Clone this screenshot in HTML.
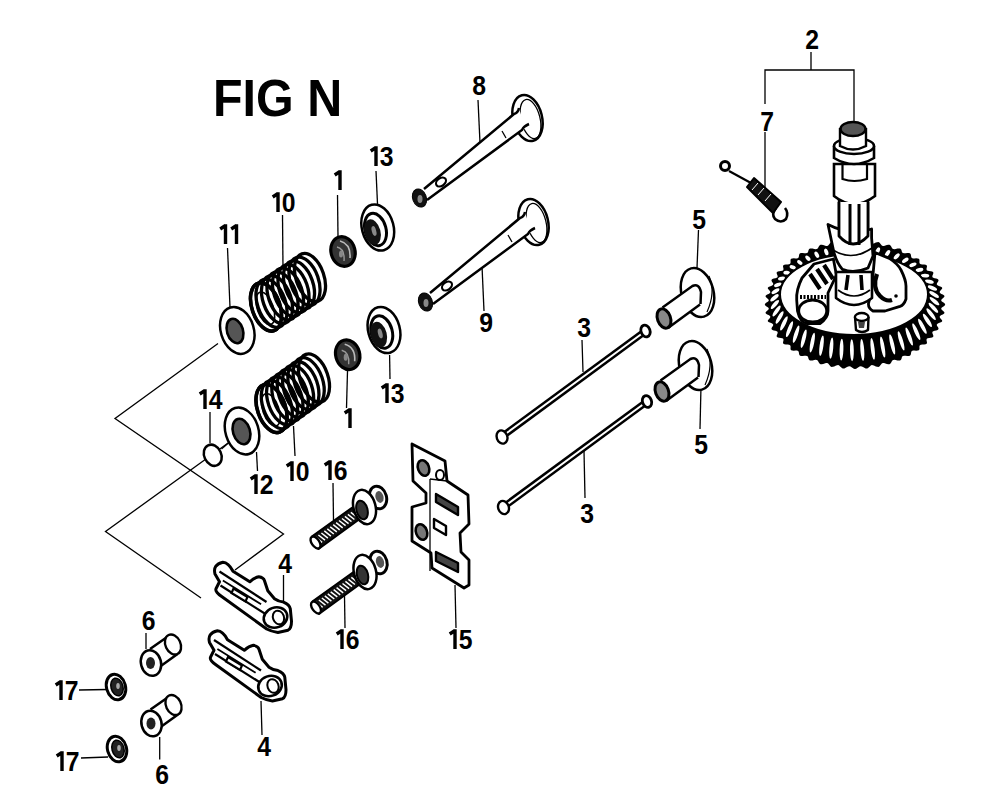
<!DOCTYPE html>
<html><head><meta charset="utf-8">
<style>
html,body{margin:0;padding:0;background:#fff;}
svg{display:block;}
.t{font-family:"Liberation Sans",sans-serif;font-weight:bold;font-size:27.5px;fill:#000;text-anchor:middle;}
.ttl{font-family:"Liberation Sans",sans-serif;font-weight:bold;font-size:51px;fill:#000;}
.l{stroke:#000;stroke-width:1.3;fill:none;}
.s2{stroke:#000;stroke-width:2.5;fill:none;}
.w{fill:#fff;stroke:#000;stroke-width:2.5;}
.gz{fill:none;stroke:#000;stroke-width:3;}
.sp ellipse{fill:none;stroke:#000;stroke-width:3.3;}
</style></head><body>
<svg width="1000" height="801" viewBox="0 0 1000 801">
<rect width="1000" height="801" fill="#fff"/>
<text class="ttl" transform="translate(213,116) scale(0.95,1)">FIG N</text>


<text class="t" transform="translate(479.0,95.0) scale(0.9,1)">8</text>
<text class="t" transform="translate(486.0,332.0) scale(0.9,1)">9</text>
<text class="t" transform="translate(584.0,337.0) scale(0.9,1)">3</text>
<text class="t" transform="translate(587.0,523.0) scale(0.9,1)">3</text>
<text class="t" transform="translate(699.0,229.0) scale(0.9,1)">5</text>
<text class="t" transform="translate(701.0,454.0) scale(0.9,1)">5</text>
<text class="t" transform="translate(812.0,49.0) scale(0.9,1)">2</text>
<text class="t" transform="translate(767.0,131.0) scale(0.9,1)">7</text>
<path d="M370.7 151.0 L376.0 147.5 M376.0 146.2 L376.0 166.0" stroke="#000" stroke-width="3.4" fill="none"/>
<text class="t" transform="translate(386.5,166.0) scale(0.9,1)">3</text>
<path d="M334.7 175.0 L340.0 171.5 M340.0 170.2 L340.0 190.0" stroke="#000" stroke-width="3.4" fill="none"/>
<path d="M272.7 197.0 L278.0 193.5 M278.0 192.2 L278.0 212.0" stroke="#000" stroke-width="3.4" fill="none"/>
<text class="t" transform="translate(288.5,212.0) scale(0.9,1)">0</text>
<path d="M220.2 229.0 L225.5 225.5 M225.5 224.2 L225.5 244.0" stroke="#000" stroke-width="3.4" fill="none"/>
<path d="M231.2 229.0 L236.5 225.5 M236.5 224.2 L236.5 244.0" stroke="#000" stroke-width="3.4" fill="none"/>
<path d="M381.7 388.0 L387.0 384.5 M387.0 383.2 L387.0 403.0" stroke="#000" stroke-width="3.4" fill="none"/>
<text class="t" transform="translate(397.5,403.0) scale(0.9,1)">3</text>
<path d="M344.7 413.0 L350.0 409.5 M350.0 408.2 L350.0 428.0" stroke="#000" stroke-width="3.4" fill="none"/>
<path d="M286.7 466.0 L292.0 462.5 M292.0 461.2 L292.0 481.0" stroke="#000" stroke-width="3.4" fill="none"/>
<text class="t" transform="translate(302.5,481.0) scale(0.9,1)">0</text>
<path d="M250.7 479.0 L256.0 475.5 M256.0 474.2 L256.0 494.0" stroke="#000" stroke-width="3.4" fill="none"/>
<text class="t" transform="translate(266.5,494.0) scale(0.9,1)">2</text>
<path d="M199.7 394.0 L205.0 390.5 M205.0 389.2 L205.0 409.0" stroke="#000" stroke-width="3.4" fill="none"/>
<text class="t" transform="translate(215.5,409.0) scale(0.9,1)">4</text>
<path d="M324.7 465.0 L330.0 461.5 M330.0 460.2 L330.0 480.0" stroke="#000" stroke-width="3.4" fill="none"/>
<text class="t" transform="translate(340.5,480.0) scale(0.9,1)">6</text>
<path d="M336.7 634.0 L342.0 630.5 M342.0 629.2 L342.0 649.0" stroke="#000" stroke-width="3.4" fill="none"/>
<text class="t" transform="translate(352.5,649.0) scale(0.9,1)">6</text>
<path d="M449.7 634.0 L455.0 630.5 M455.0 629.2 L455.0 649.0" stroke="#000" stroke-width="3.4" fill="none"/>
<text class="t" transform="translate(465.5,649.0) scale(0.9,1)">5</text>
<text class="t" transform="translate(285.0,573.0) scale(0.9,1)">4</text>
<text class="t" transform="translate(264.0,756.0) scale(0.9,1)">4</text>
<text class="t" transform="translate(148.5,630.0) scale(0.9,1)">6</text>
<text class="t" transform="translate(162.0,784.0) scale(0.9,1)">6</text>
<path d="M55.7 685.0 L61.0 681.5 M61.0 680.2 L61.0 700.0" stroke="#000" stroke-width="3.4" fill="none"/>
<text class="t" transform="translate(71.5,700.0) scale(0.9,1)">7</text>
<path d="M56.7 756.0 L62.0 752.5 M62.0 751.2 L62.0 771.0" stroke="#000" stroke-width="3.4" fill="none"/>
<text class="t" transform="translate(72.5,771.0) scale(0.9,1)">7</text>

<!-- leaders -->
<g class="l">
<path d="M478 100 L480 143"/>
<path d="M482 266 L484 311"/>
<path d="M582 340 L583 372"/>
<path d="M584 451 L585 498"/>
<path d="M698.5 230 L697 268"/>
<path d="M701 386 L700 429"/>
<path d="M811 52 L811 70 M765 104 L765 70 L854 70 L854 122"/>
<path d="M765 132 L765 190"/>
<path d="M376 171 L377.5 204"/>
<path d="M337.5 195 L338 237"/>
<path d="M282.5 215 L283 268"/>
<path d="M227.5 248 L230 307"/>
<path d="M347.5 371 L346.5 408"/>
<path d="M293.5 426 L295 456"/>
<path d="M256.5 452 L257.5 471"/>
<path d="M210 412 L210 443"/>
<path d="M333 483 L333.5 520"/>
<path d="M344.5 596 L345 628"/>
<path d="M455 585 L456 628"/>
<path d="M283.5 575 L283.5 604"/>
<path d="M261 701 L262 735"/>
<path d="M146 633 L146 649"/>
<path d="M159.7 737 L159.7 759.5"/>
<path d="M79 690 L107 689.5"/>
<path d="M81 758 L108 757"/>
<path d="M389.6 355 L390 379"/>
<!-- brackets -->
<path d="M218 343.5 L115 418.5 L283.5 534 L235 570"/>
<path d="M229.5 442 L105.5 531.5 L201 598"/>
</g>

<!-- valve 8 -->
<g id="v8">
 <ellipse class="w" cx="527.5" cy="118" rx="14.5" ry="23.5" transform="rotate(-14 527.5 118)" stroke-width="2.8"/>
 <ellipse cx="530.5" cy="119" rx="9.5" ry="20" transform="rotate(-14 530.5 119)" fill="none" stroke="#000" stroke-width="1.3"/>
 <path d="M519 109 L423 189 L426 201 L526 128 Z" fill="#fff"/>
 <path class="s2" d="M519 108 Q518 113 514 114 L424 189"/>
 <path class="s2" d="M529 124 Q524 126 522 130 L427 200"/>
 <path class="l" d="M502 131 L506 138"/>
 <ellipse cx="441" cy="182" rx="5.5" ry="3.8" transform="rotate(-37 441 182)" fill="#fff" stroke="#000" stroke-width="2.2"/>
 <ellipse cx="419.5" cy="198" rx="6.8" ry="9.3" transform="rotate(-20 419.5 198)" fill="#111" stroke="#000" stroke-width="1"/>
 <ellipse cx="420" cy="199" rx="2.5" ry="4" fill="#888"/>
</g>
<use href="#v8" transform="translate(6,104)"/>

<!-- springs 10 -->
<g class="sp">
<ellipse cx="266.0" cy="307.0" rx="14" ry="25" transform="rotate(-19 266.0 307.0)"/>
<ellipse cx="271.5" cy="303.3" rx="14" ry="25" transform="rotate(-19 271.5 303.3)"/>
<ellipse cx="277.0" cy="299.6" rx="14" ry="25" transform="rotate(-19 277.0 299.6)"/>
<ellipse cx="282.5" cy="295.9" rx="14" ry="25" transform="rotate(-19 282.5 295.9)"/>
<ellipse cx="288.0" cy="292.2" rx="14" ry="25" transform="rotate(-19 288.0 292.2)"/>
<ellipse cx="293.5" cy="288.6" rx="14" ry="25" transform="rotate(-19 293.5 288.6)"/>
<ellipse cx="299.0" cy="284.9" rx="14" ry="25" transform="rotate(-19 299.0 284.9)"/>
<ellipse cx="304.5" cy="281.2" rx="14" ry="25" transform="rotate(-19 304.5 281.2)"/>
<ellipse cx="310.0" cy="277.5" rx="14" ry="25" transform="rotate(-19 310.0 277.5)"/>
<ellipse cx="266" cy="307" rx="14" ry="25" transform="rotate(-19 266 307)" style="stroke-width:3.6"/>
<ellipse cx="265" cy="308" rx="8" ry="17" transform="rotate(-19 266 307)" style="stroke-width:1.6"/>
</g>
<g class="sp">
<ellipse cx="271.5" cy="408.5" rx="14" ry="25" transform="rotate(-19 271.5 408.5)"/>
<ellipse cx="276.8" cy="404.7" rx="14" ry="25" transform="rotate(-19 276.8 404.7)"/>
<ellipse cx="282.1" cy="400.9" rx="14" ry="25" transform="rotate(-19 282.1 400.9)"/>
<ellipse cx="287.4" cy="397.1" rx="14" ry="25" transform="rotate(-19 287.4 397.1)"/>
<ellipse cx="292.8" cy="393.2" rx="14" ry="25" transform="rotate(-19 292.8 393.2)"/>
<ellipse cx="298.1" cy="389.4" rx="14" ry="25" transform="rotate(-19 298.1 389.4)"/>
<ellipse cx="303.4" cy="385.6" rx="14" ry="25" transform="rotate(-19 303.4 385.6)"/>
<ellipse cx="308.7" cy="381.8" rx="14" ry="25" transform="rotate(-19 308.7 381.8)"/>
<ellipse cx="314.0" cy="378.0" rx="14" ry="25" transform="rotate(-19 314.0 378.0)"/>
<ellipse cx="271.5" cy="408.5" rx="14" ry="25" transform="rotate(-19 271.5 408.5)" style="stroke-width:3.6"/>
<ellipse cx="270.5" cy="409.5" rx="8" ry="17" transform="rotate(-19 271.5 408.5)" style="stroke-width:1.6"/>
</g>

<!-- washer 11 -->
<ellipse class="w" cx="237.3" cy="330.4" rx="16.5" ry="24" transform="rotate(-17 237.3 330.4)" stroke-width="2.8"/>
<ellipse cx="235" cy="331" rx="8" ry="12.5" transform="rotate(-17 235 331)" fill="#555" stroke="#000" stroke-width="2.6"/>
<!-- washer 12 -->
<ellipse class="w" cx="242" cy="431" rx="16.5" ry="24" transform="rotate(-17 242 431)" stroke-width="2.8"/>
<ellipse cx="241.5" cy="431.5" rx="8.5" ry="13" transform="rotate(-17 241.5 431.5)" fill="#555" stroke="#000" stroke-width="2.6"/>
<!-- ring 14 -->
<path class="l" d="M221.5 449 L229.5 442"/>
<ellipse class="w" cx="212.75" cy="455.25" rx="8.5" ry="11" transform="rotate(-25 212.75 455.25)"/>

<!-- keepers 1 -->
<g id="k1">
<ellipse cx="343" cy="251.5" rx="12" ry="15" transform="rotate(-15 343 251.5)" fill="#333" stroke="#000" stroke-width="3.2"/>
<path d="M340 241 Q351 244 350 258" fill="none" stroke="#bbb" stroke-width="1.6"/>
<path d="M337 247 Q345 249 344 261" fill="none" stroke="#999" stroke-width="1.4"/>
<ellipse cx="341" cy="254" rx="2" ry="3.5" fill="#888"/>
</g>
<use href="#k1" transform="translate(4.7,103.2)"/>

<!-- retainers 13 -->
<g id="r13">
<ellipse class="w" cx="377.75" cy="227.5" rx="15.8" ry="23.5" transform="rotate(-15 377.75 227.5)" stroke-width="4.4"/>
<ellipse cx="375.5" cy="229.5" rx="10.5" ry="16.5" transform="rotate(-15 375.5 229.5)" fill="none" stroke="#000" stroke-width="3"/>
<ellipse cx="372.5" cy="232" rx="8" ry="13" transform="rotate(-15 372.5 232)" fill="#111"/>
<ellipse cx="374" cy="231" rx="2.2" ry="5" transform="rotate(-15 374 231)" fill="#888"/>
</g>
<use href="#r13" transform="translate(6.25,102.5)"/>

<!-- pushrods 3 -->
<g id="pr1">
<path d="M502 436.5 L645.5 331" stroke="#000" stroke-width="7" fill="none"/>
<path d="M505 434.3 L642.5 333.2" stroke="#fff" stroke-width="2" fill="none"/>
<ellipse cx="502" cy="437" rx="5.3" ry="6.8" transform="rotate(-20 502 437)" fill="#fff" stroke="#000" stroke-width="2.4"/>
<ellipse cx="645.5" cy="331" rx="4.5" ry="6" transform="rotate(-20 645.5 331)" fill="#fff" stroke="#000" stroke-width="2.8"/>
</g>
<use href="#pr1" transform="translate(1.5,70.5)"/>

<!-- lifters 5 -->
<g id="lf5">
<ellipse class="w" cx="697.5" cy="292.5" rx="16" ry="25" transform="rotate(-15 697.5 292.5)" stroke-width="2.8"/>
<path d="M709 276 Q716 292 707 312" fill="none" stroke="#000" stroke-width="1.2"/>
<path d="M662.5 307.4 L692.4 286 L700 304.6 L668 328 Z" fill="#fff"/>
<path class="s2" d="M662.5 307.4 L692.4 286 Q699 283 701 292 L700.5 304"/>
<path class="s2" d="M668 328 L700 304.6"/>
<ellipse cx="664" cy="318.5" rx="6.5" ry="10" transform="rotate(-20 664 318.5)" fill="#888" stroke="#000" stroke-width="3"/>
</g>
<use href="#lf5" transform="translate(-2,73)"/>

<!-- plate 15 -->
<g>
<path d="M412 444 L445 461 L447 481 L468 495 L469 524 L460 533 L461 552 L469 560 L469 585 L464 588 L432 568 L431 553 L412 541 L412 507 L426 503 L426 493 L413 481 Z" fill="#fff" stroke="#000" stroke-width="2.8" stroke-linejoin="round"/>
<path class="l" d="M430 479 L430 571"/>
<path class="l" d="M430 479 L447 481"/>
<ellipse cx="423.5" cy="468" rx="5.5" ry="8" transform="rotate(-20 423.5 468)" fill="#777" stroke="#000" stroke-width="2.6"/>
<ellipse cx="440" cy="475" rx="4" ry="5" fill="#fff" stroke="#000" stroke-width="2"/>
<path d="M436 494 L458 507 L458 515 L436 502 Z" fill="#444" stroke="#000" stroke-width="2.4" stroke-linejoin="round"/>
<path d="M434 519 L446 526 L446 535 L434 528 Z" fill="#fff" stroke="#000" stroke-width="2.4" stroke-linejoin="round"/>
<ellipse cx="421.5" cy="532" rx="5.5" ry="8" transform="rotate(-20 421.5 532)" fill="#777" stroke="#000" stroke-width="2.6"/>
<path d="M436 552 L458 563 L458 572 L436 561 Z" fill="#444" stroke="#000" stroke-width="2.4" stroke-linejoin="round"/>
</g>

<!-- bolts 16 -->
<g id="b16">
<path d="M312.5 536 L353 507 L359 519.5 L318.5 549 Z" fill="#111" stroke="#000" stroke-width="2" stroke-linejoin="round"/>
<path d="M322.1 542.3 L315.5 537.1 M325.0 540.2 L318.4 535.0 M327.9 538.1 L321.4 533.0 M330.9 536.1 L324.3 530.9 M333.8 534.0 L327.3 528.8 M336.8 531.9 L330.2 526.8 M339.7 529.8 L333.2 524.7 M342.7 527.8 L336.1 522.6 M345.6 525.7 L339.0 520.5 M348.6 523.6 L342.0 518.5 M351.5 521.6 L344.9 516.4 M354.4 519.5 L347.9 514.3 M357.4 517.4 L350.8 512.3" stroke="#fff" stroke-width="1.5" fill="none"/>
<ellipse cx="315.5" cy="542.5" rx="3.8" ry="6.8" transform="rotate(-35 315.5 542.5)" fill="#fff" stroke="#000" stroke-width="2.4"/>
<ellipse cx="378" cy="497.5" rx="8.5" ry="11.5" transform="rotate(-15 378 497.5)" fill="#fff" stroke="#000" stroke-width="3"/>
<ellipse cx="379.5" cy="497" rx="4" ry="6" transform="rotate(-15 379.5 497)" fill="#555"/>
<ellipse class="w" cx="364.5" cy="507" rx="11" ry="17.5" transform="rotate(-15 364.5 507)" stroke-width="3"/>
<ellipse cx="362" cy="510" rx="5.5" ry="9.5" transform="rotate(-15 362 510)" fill="#333" stroke="#000" stroke-width="2"/>
</g>
<use href="#b16" transform="translate(0.5,65)"/>

<!-- rockers 4 -->
<g id="rk4">
<path d="M209.5 642.5 Q207 633 217.4 630.7 Q223 631 227.5 639.7 L244.3 650.3 Q249 646 253.3 645.3 Q258 646 259 649.2 L262.3 659.3 L269 667.2 Q273 670 278 670.6 Q284 673 284.8 677.3 L286 689.7 Q286 697 282.5 698.7 L272.4 701 Q266 700 261.2 697.5 L216.2 665 Q209 660 210.6 657 L214 650.3 Z" fill="#fff" stroke="#000" stroke-width="3" stroke-linejoin="round"/>
<path d="M214 640 L261 670.5" stroke="#000" stroke-width="2.2" fill="none"/>
<path d="M217.4 649 L255.6 672.8" stroke="#000" stroke-width="1.8" fill="none"/>
<path d="M215 654 L264 685" stroke="#000" stroke-width="2.2" fill="none"/>
<path d="M228 657 L242 665.5 L240 670 L226 661.5 Z" fill="#fff" stroke="#000" stroke-width="2.2"/>
<ellipse cx="270" cy="686" rx="12" ry="10" transform="rotate(-20 270 686)" fill="#fff" stroke="#000" stroke-width="2.6"/>
<ellipse cx="273" cy="686" rx="5.5" ry="7" transform="rotate(-20 273 686)" fill="none" stroke="#000" stroke-width="2"/>
</g>
<use href="#rk4" transform="translate(5.5,-68.5)"/>

<!-- pivots 6 -->
<g id="pv6">
<path d="M150 649 L170 635 L177.5 654 L158.75 667.5 Z" fill="#fff"/>
<path class="s2" d="M150 649 L170 635 M158.75 667.5 L177.5 654" stroke-width="2.2"/>
<ellipse cx="173" cy="644.5" rx="7.5" ry="10.5" transform="rotate(-25 173 644.5)" fill="#fff" stroke="#000" stroke-width="2.4"/>
<ellipse class="w" cx="151" cy="663" rx="10" ry="13" transform="rotate(-15 151 663)" stroke-width="2.6"/>
<ellipse cx="150.5" cy="663" rx="4.5" ry="6" fill="#222"/>
</g>
<use href="#pv6" transform="translate(0.5,60.5)"/>

<!-- nuts 17 -->
<g id="n17">
<ellipse cx="116" cy="687" rx="9.5" ry="13" transform="rotate(-15 116 687)" fill="#fff" stroke="#000" stroke-width="3"/>
<ellipse cx="117" cy="687" rx="6" ry="9" transform="rotate(-15 117 687)" fill="#222" stroke="#000" stroke-width="1.5"/>
<ellipse cx="118" cy="686" rx="1.8" ry="3" fill="#aaa"/>
</g>
<use href="#n17" transform="translate(1,62)"/>

<!-- spring 7 -->
<g>
<circle cx="725" cy="166" r="4.5" fill="#fff" stroke="#000" stroke-width="3"/>
<path d="M729 171 L751 183" stroke="#000" stroke-width="2.2"/>
<path d="M776 208 Q771 214 775 219 Q781 224 786 219 Q789 213 785 208" fill="none" stroke="#000" stroke-width="2.6"/>
<path d="M747 187 L754 178 L781 202 L773 213 Z" fill="#111" stroke="#000" stroke-width="2" stroke-linejoin="round"/>
<path d="M752 190 L758 183 M758 195 L764 188 M765 201 L771 194" stroke="#fff" stroke-width="1"/>
</g>

<!-- gear -->
<path d="M945.2 304.5 L944.9 305.3 L943.9 306.2 L942.6 307.0 L941.6 307.7 L941.2 308.5 L941.5 309.4 L942.3 310.2 L943.4 311.2 L944.2 312.1 L944.5 312.9 L943.9 313.7 L942.8 314.5 L941.4 315.1 L940.3 315.8 L939.7 316.6 L939.8 317.4 L940.5 318.4 L941.4 319.4 L942.1 320.3 L942.2 321.2 L941.5 322.0 L940.2 322.6 L938.8 323.1 L937.5 323.7 L936.8 324.4 L936.8 325.2 L937.3 326.2 L938.0 327.3 L938.5 328.3 L938.4 329.2 L937.6 329.9 L936.2 330.4 L934.6 330.8 L933.3 331.2 L932.5 331.8 L932.3 332.7 L932.6 333.7 L933.1 334.9 L933.4 335.9 L933.2 336.8 L932.2 337.4 L930.8 337.7 L929.2 338.0 L927.7 338.3 L926.8 338.8 L926.5 339.7 L926.6 340.7 L926.9 341.9 L927.0 343.0 L926.6 343.8 L925.6 344.3 L924.1 344.5 L922.4 344.6 L920.9 344.8 L919.9 345.3 L919.5 346.0 L919.4 347.1 L919.5 348.3 L919.4 349.4 L918.8 350.2 L917.7 350.6 L916.2 350.7 L914.5 350.6 L913.0 350.6 L911.9 351.0 L911.3 351.7 L911.1 352.8 L910.9 353.9 L910.6 355.0 L909.9 355.7 L908.8 356.0 L907.3 356.0 L905.6 355.8 L904.1 355.7 L903.0 355.9 L902.2 356.6 L901.8 357.6 L901.5 358.8 L901.0 359.8 L900.1 360.4 L898.9 360.6 L897.4 360.4 L895.8 360.1 L894.4 359.8 L893.2 359.9 L892.3 360.5 L891.7 361.5 L891.2 362.6 L890.5 363.6 L889.5 364.2 L888.3 364.2 L886.9 363.9 L885.4 363.4 L884.0 363.0 L882.8 363.0 L881.8 363.5 L881.0 364.4 L880.2 365.5 L879.4 366.4 L878.4 366.9 L877.1 366.8 L875.8 366.4 L874.4 365.7 L873.0 365.2 L871.8 365.1 L870.8 365.5 L869.9 366.4 L868.9 367.3 L867.9 368.2 L866.8 368.5 L865.6 368.4 L864.3 367.8 L863.0 367.0 L861.8 366.4 L860.6 366.2 L859.5 366.5 L858.4 367.2 L857.3 368.1 L856.2 368.8 L855.0 369.1 L853.8 368.8 L852.7 368.1 L851.6 367.2 L850.5 366.5 L849.4 366.2 L848.2 366.4 L847.0 367.0 L845.7 367.8 L844.4 368.4 L843.2 368.5 L842.1 368.2 L841.1 367.3 L840.1 366.4 L839.2 365.5 L838.2 365.1 L837.0 365.2 L835.6 365.7 L834.2 366.4 L832.9 366.8 L831.6 366.9 L830.6 366.4 L829.8 365.5 L829.0 364.4 L828.2 363.5 L827.2 363.0 L826.0 363.0 L824.6 363.4 L823.1 363.9 L821.7 364.2 L820.5 364.2 L819.5 363.6 L818.8 362.6 L818.3 361.5 L817.7 360.5 L816.8 359.9 L815.6 359.8 L814.2 360.1 L812.6 360.4 L811.1 360.6 L809.9 360.4 L809.0 359.8 L808.5 358.8 L808.2 357.6 L807.8 356.6 L807.0 355.9 L805.9 355.7 L804.4 355.8 L802.7 356.0 L801.2 356.0 L800.1 355.7 L799.4 355.0 L799.1 353.9 L798.9 352.8 L798.7 351.7 L798.1 351.0 L797.0 350.6 L795.5 350.6 L793.8 350.7 L792.3 350.6 L791.2 350.2 L790.6 349.4 L790.5 348.3 L790.6 347.1 L790.5 346.0 L790.1 345.3 L789.1 344.8 L787.6 344.6 L785.9 344.5 L784.4 344.3 L783.4 343.8 L783.0 343.0 L783.1 341.9 L783.4 340.7 L783.5 339.7 L783.2 338.8 L782.3 338.3 L780.8 338.0 L779.2 337.7 L777.8 337.4 L776.8 336.8 L776.6 335.9 L776.9 334.9 L777.4 333.7 L777.7 332.7 L777.5 331.8 L776.7 331.2 L775.4 330.8 L773.8 330.4 L772.4 329.9 L771.6 329.2 L771.5 328.3 L772.0 327.3 L772.7 326.2 L773.2 325.2 L773.2 324.4 L772.5 323.7 L771.2 323.1 L769.8 322.6 L768.5 322.0 L767.8 321.2 L767.9 320.3 L768.6 319.4 L769.5 318.4 L770.2 317.4 L770.3 316.6 L769.7 315.8 L768.6 315.1 L767.2 314.5 L766.1 313.7 L765.5 312.9 L765.8 312.1 L766.6 311.2 L767.7 310.2 L768.5 309.4 L768.8 308.5 L768.4 307.7 L767.4 307.0 L766.1 306.2 L765.1 305.3 L764.8 304.5 L765.1 303.7 L766.1 302.8 L767.4 302.0 L768.4 301.3 L768.8 300.5 L768.5 299.6 L767.7 298.8 L766.6 297.8 L765.8 296.9 L765.5 296.1 L766.1 295.3 L767.2 294.5 L768.6 293.9 L769.7 293.2 L770.3 292.4 L770.2 291.6 L769.5 290.6 L768.6 289.6 L767.9 288.7 L767.8 287.8 L768.5 287.0 L769.8 286.4 L771.2 285.9 L772.5 285.3 L773.2 284.6 L773.2 283.8 L772.7 282.8 L772.0 281.7 L771.5 280.7 L771.6 279.8 L772.4 279.1 L773.8 278.6 L775.4 278.2 L776.7 277.8 L777.5 277.2 L777.7 276.3 L777.4 275.3 L776.9 274.1 L776.6 273.1 L776.8 272.2 L777.8 271.6 L779.2 271.3 L780.8 271.0 L782.3 270.7 L783.2 270.2 L783.5 269.3 L783.4 268.3 L783.1 267.1 L783.0 266.0 L783.4 265.2 L784.4 264.7 L785.9 264.5 L787.6 264.4 L789.1 264.2 L790.1 263.7 L790.5 263.0 L790.6 261.9 L790.5 260.7 L790.6 259.6 L791.2 258.8 L792.3 258.4 L793.8 258.3 L795.5 258.4 L797.0 258.4 L798.1 258.0 L798.7 257.3 L798.9 256.2 L799.1 255.1 L799.4 254.0 L800.1 253.3 L801.2 253.0 L802.7 253.0 L804.4 253.2 L805.9 253.3 L807.0 253.1 L807.8 252.4 L808.2 251.4 L808.5 250.2 L809.0 249.2 L809.9 248.6 L811.1 248.4 L812.6 248.6 L814.2 248.9 L815.6 249.2 L816.8 249.1 L817.7 248.5 L818.3 247.5 L818.8 246.4 L819.5 245.4 L820.5 244.8 L821.7 244.8 L823.1 245.1 L824.6 245.6 L826.0 246.0 L827.2 246.0 L828.2 245.5 L829.0 244.6 L829.8 243.5 L830.6 242.6 L831.6 242.1 L832.9 242.2 L834.2 242.6 L835.6 243.3 L837.0 243.8 L838.2 243.9 L839.2 243.5 L840.1 242.6 L841.1 241.7 L842.1 240.8 L843.2 240.5 L844.4 240.6 L845.7 241.2 L847.0 242.0 L848.2 242.6 L849.4 242.8 L850.5 242.5 L851.6 241.8 L852.7 240.9 L853.8 240.2 L855.0 239.9 L856.2 240.2 L857.3 240.9 L858.4 241.8 L859.5 242.5 L860.6 242.8 L861.8 242.6 L863.0 242.0 L864.3 241.2 L865.6 240.6 L866.8 240.5 L867.9 240.8 L868.9 241.7 L869.9 242.6 L870.8 243.5 L871.8 243.9 L873.0 243.8 L874.4 243.3 L875.8 242.6 L877.1 242.2 L878.4 242.1 L879.4 242.6 L880.2 243.5 L881.0 244.6 L881.8 245.5 L882.8 246.0 L884.0 246.0 L885.4 245.6 L886.9 245.1 L888.3 244.8 L889.5 244.8 L890.5 245.4 L891.2 246.4 L891.7 247.5 L892.3 248.5 L893.2 249.1 L894.4 249.2 L895.8 248.9 L897.4 248.6 L898.9 248.4 L900.1 248.6 L901.0 249.2 L901.5 250.2 L901.8 251.4 L902.2 252.4 L903.0 253.1 L904.1 253.3 L905.6 253.2 L907.3 253.0 L908.8 253.0 L909.9 253.3 L910.6 254.0 L910.9 255.1 L911.1 256.2 L911.3 257.3 L911.9 258.0 L913.0 258.4 L914.5 258.4 L916.2 258.3 L917.7 258.4 L918.8 258.8 L919.4 259.6 L919.5 260.7 L919.4 261.9 L919.5 263.0 L919.9 263.7 L920.9 264.2 L922.4 264.4 L924.1 264.5 L925.6 264.7 L926.6 265.2 L927.0 266.0 L926.9 267.1 L926.6 268.3 L926.5 269.3 L926.8 270.2 L927.7 270.7 L929.2 271.0 L930.8 271.3 L932.2 271.6 L933.2 272.2 L933.4 273.1 L933.1 274.1 L932.6 275.3 L932.3 276.3 L932.5 277.2 L933.3 277.8 L934.6 278.2 L936.2 278.6 L937.6 279.1 L938.4 279.8 L938.5 280.7 L938.0 281.7 L937.3 282.8 L936.8 283.8 L936.8 284.6 L937.5 285.3 L938.8 285.9 L940.2 286.4 L941.5 287.0 L942.2 287.8 L942.1 288.7 L941.4 289.6 L940.5 290.6 L939.8 291.6 L939.7 292.4 L940.3 293.2 L941.4 293.9 L942.8 294.5 L943.9 295.3 L944.5 296.1 L944.2 296.9 L943.4 297.8 L942.3 298.8 L941.5 299.6 L941.2 300.5 L941.6 301.3 L942.6 302.0 L943.9 302.8 L944.9 303.7Z" fill="#000"/>
<g fill="#fff"><ellipse cx="934.5" cy="301.2" rx="6.1" ry="1.9" transform="rotate(39.4 934.5 301.2)"/><ellipse cx="933.4" cy="307.8" rx="6.7" ry="1.9" transform="rotate(46.1 933.4 307.8)"/><ellipse cx="931.1" cy="314.2" rx="7.3" ry="1.9" transform="rotate(52.0 931.1 314.2)"/><ellipse cx="927.4" cy="320.4" rx="7.9" ry="1.9" transform="rotate(57.1 927.4 320.4)"/><ellipse cx="922.4" cy="326.3" rx="8.5" ry="1.9" transform="rotate(61.7 922.4 326.3)"/><ellipse cx="916.3" cy="331.7" rx="9.1" ry="1.9" transform="rotate(65.9 916.3 331.7)"/><ellipse cx="909.2" cy="336.5" rx="9.6" ry="1.9" transform="rotate(69.8 909.2 336.5)"/><ellipse cx="901.1" cy="340.8" rx="10.0" ry="1.9" transform="rotate(73.3 901.1 340.8)"/><ellipse cx="892.2" cy="344.3" rx="10.4" ry="1.9" transform="rotate(76.7 892.2 344.3)"/><ellipse cx="882.7" cy="347.0" rx="10.7" ry="1.9" transform="rotate(79.8 882.7 347.0)"/><ellipse cx="872.7" cy="348.9" rx="10.9" ry="1.9" transform="rotate(82.9 872.7 348.9)"/><ellipse cx="862.3" cy="350.0" rx="11.0" ry="1.9" transform="rotate(85.9 862.3 350.0)"/><ellipse cx="851.9" cy="350.2" rx="11.0" ry="1.9" transform="rotate(88.9 851.9 350.2)"/><ellipse cx="841.5" cy="349.6" rx="10.9" ry="1.9" transform="rotate(91.8 841.5 349.6)"/><ellipse cx="831.3" cy="348.1" rx="10.7" ry="1.9" transform="rotate(94.8 831.3 348.1)"/><ellipse cx="821.5" cy="345.7" rx="10.4" ry="1.9" transform="rotate(97.8 821.5 345.7)"/><ellipse cx="812.3" cy="342.6" rx="10.1" ry="1.9" transform="rotate(101.0 812.3 342.6)"/><ellipse cx="803.7" cy="338.7" rx="9.6" ry="1.9" transform="rotate(104.4 803.7 338.7)"/><ellipse cx="796.1" cy="334.2" rx="9.1" ry="1.9" transform="rotate(107.9 796.1 334.2)"/><ellipse cx="789.5" cy="329.1" rx="8.5" ry="1.9" transform="rotate(111.8 789.5 329.1)"/><ellipse cx="783.9" cy="323.4" rx="7.9" ry="1.9" transform="rotate(116.0 783.9 323.4)"/><ellipse cx="779.6" cy="317.4" rx="7.2" ry="1.9" transform="rotate(120.7 779.6 317.4)"/><ellipse cx="776.6" cy="311.0" rx="6.5" ry="1.9" transform="rotate(126.1 776.6 311.0)"/><ellipse cx="774.9" cy="304.5" rx="5.8" ry="1.9" transform="rotate(132.3 774.9 304.5)"/><ellipse cx="774.5" cy="297.8" rx="5.2" ry="1.9" transform="rotate(139.7 774.5 297.8)"/><ellipse cx="775.6" cy="291.2" rx="4.6" ry="1.9" transform="rotate(148.4 775.6 291.2)"/><ellipse cx="777.9" cy="284.8" rx="4.0" ry="1.9" transform="rotate(158.9 777.9 284.8)"/><ellipse cx="781.6" cy="278.6" rx="3.6" ry="1.9" transform="rotate(171.2 781.6 278.6)"/><ellipse cx="786.6" cy="272.7" rx="3.3" ry="1.9" transform="rotate(-174.9 786.6 272.7)"/><ellipse cx="792.7" cy="267.3" rx="3.2" ry="1.9" transform="rotate(-160.0 792.7 267.3)"/><ellipse cx="799.8" cy="262.5" rx="3.1" ry="1.9" transform="rotate(-145.4 799.8 262.5)"/><ellipse cx="807.9" cy="258.2" rx="3.2" ry="1.9" transform="rotate(-132.0 807.9 258.2)"/><ellipse cx="816.8" cy="254.7" rx="3.4" ry="1.9" transform="rotate(-120.0 816.8 254.7)"/><ellipse cx="826.3" cy="252.0" rx="3.5" ry="1.9" transform="rotate(-109.4 826.3 252.0)"/><ellipse cx="836.3" cy="250.1" rx="3.6" ry="1.9" transform="rotate(-99.8 836.3 250.1)"/><ellipse cx="846.7" cy="249.0" rx="3.7" ry="1.9" transform="rotate(-91.0 846.7 249.0)"/><ellipse cx="857.1" cy="248.8" rx="3.8" ry="1.9" transform="rotate(-82.4 857.1 248.8)"/><ellipse cx="867.5" cy="249.4" rx="3.8" ry="1.9" transform="rotate(-73.9 867.5 249.4)"/><ellipse cx="877.7" cy="250.9" rx="3.8" ry="1.9" transform="rotate(-65.0 877.7 250.9)"/><ellipse cx="887.5" cy="253.3" rx="3.8" ry="1.9" transform="rotate(-55.5 887.5 253.3)"/><ellipse cx="896.7" cy="256.4" rx="3.8" ry="1.9" transform="rotate(-45.3 896.7 256.4)"/><ellipse cx="905.3" cy="260.3" rx="3.7" ry="1.9" transform="rotate(-34.2 905.3 260.3)"/><ellipse cx="912.9" cy="264.8" rx="3.8" ry="1.9" transform="rotate(-22.4 912.9 264.8)"/><ellipse cx="919.5" cy="269.9" rx="3.9" ry="1.9" transform="rotate(-10.2 919.5 269.9)"/><ellipse cx="925.1" cy="275.6" rx="4.2" ry="1.9" transform="rotate(1.7 925.1 275.6)"/><ellipse cx="929.4" cy="281.6" rx="4.5" ry="1.9" transform="rotate(12.8 929.4 281.6)"/><ellipse cx="932.4" cy="288.0" rx="5.0" ry="1.9" transform="rotate(22.8 932.4 288.0)"/><ellipse cx="934.1" cy="294.5" rx="5.5" ry="1.9" transform="rotate(31.7 934.1 294.5)"/></g>
<ellipse cx="854" cy="294.5" rx="74" ry="40.5" fill="#fff" stroke="#000" stroke-width="2"/>

<!-- camshaft -->
<g>
<!-- shaft -->
<path d="M839 200 L839 250 L868 250 L868 200 Z" fill="#fff" stroke="#000" stroke-width="2.4"/>
<path d="M850 204 L850 250 M859 204 L859 250" stroke="#000" stroke-width="2"/>
<!-- lobe cylinder -->
<path d="M834 164 L834 196 Q854 212 875 196 L875 164 Z" fill="#fff" stroke="#000" stroke-width="2.6"/>
<path d="M842.5 164 L842.5 179 Q854 183 867 179 L867 164" fill="none" stroke="#000" stroke-width="2.2"/>
<!-- collar -->
<path d="M834 146 L834 158 Q854 170 874 158 L874 146" fill="#fff" stroke="#000" stroke-width="2.6"/>
<ellipse cx="854" cy="146" rx="20" ry="8" fill="#fff" stroke="#000" stroke-width="2.6"/>
<!-- knob -->
<path d="M840 128 L840 146 Q853 153 866 146 L866 128" fill="#fff" stroke="#000" stroke-width="2.4"/>
<ellipse cx="853" cy="129" rx="12.5" ry="7" fill="#555" stroke="#000" stroke-width="2.4"/>
</g>


<!-- gear hub -->
<g stroke-linejoin="round">
<!-- left lobe -->
<path d="M814 264 L802 278 Q796 290 796.7 300 L797.5 311 Q800 322 806.5 323.5 L820 323.5 Q828 318 828 311 L828 293 L836.4 275 L833.4 259 Z" fill="#fff" stroke="#000" stroke-width="2.8"/>
<ellipse cx="812.7" cy="311" rx="14" ry="11" fill="#fff" stroke="#000" stroke-width="2.8"/>
<path d="M800 297 L826 297" stroke="#000" stroke-width="4" stroke-dasharray="2 1.5"/>
<path d="M810 274 L820 289 M817 269 L827 284 M824 265 L833 279" stroke="#000" stroke-width="4.2"/>
<circle cx="842" cy="264" r="1.8" fill="#000"/>
<!-- right lobe -->
<path d="M875 252.5 L889.4 258.4 Q898 264 901 270 Q906 280 906 286 L906 299 Q904 305 900 306.4 L885 311 L873 311 Q868 308 868.5 303.4 L871.5 291.4 Z" fill="#fff" stroke="#000" stroke-width="2.8"/>
<path d="M877 274 Q872 288 880 296 Q886 302 892 300" fill="none" stroke="#000" stroke-width="4.2"/>
<circle cx="896" cy="296" r="1.8" fill="#000"/>
<!-- center cylinder -->
<path d="M836 272 L836 298 Q854 312 872 298 L872 272 Z" fill="#fff" stroke="#000" stroke-width="2.6"/>
<path d="M838 290 Q854 302 870 290" fill="none" stroke="#000" stroke-width="1.6"/>
<path d="M848 275 L846 290 M861 275 L862 290" stroke="#000" stroke-width="3.6"/>
<!-- cup -->
<path d="M828 224.5 L833.4 250 Q836 262 842.4 269.4 Q854 274 868 268 L873 256 L871.6 238 L871.6 229 Q850 236 828 224.5 Z" fill="#fff" stroke="#000" stroke-width="2.8"/>
<path d="M833 250 Q852 262 872 248" fill="none" stroke="#000" stroke-width="1.6"/>
<path d="M839 202 L839 236 Q853 252 868 236 L868 202" fill="#fff" stroke="#000" stroke-width="2.8"/>
<path d="M850 204 L850 245 M859 204 L859 245" stroke="#000" stroke-width="3"/>
<!-- pin -->
<path d="M855 317 L856 330 Q862 334 868 330 L868.5 317" fill="#fff" stroke="#000" stroke-width="2.4"/>
<ellipse cx="861.7" cy="317" rx="6.8" ry="4" fill="#fff" stroke="#000" stroke-width="2.4"/>
<path d="M858 322 L865 322 L864 328 L859 328 Z" fill="#444"/>
</g>


</svg>
</body></html>
